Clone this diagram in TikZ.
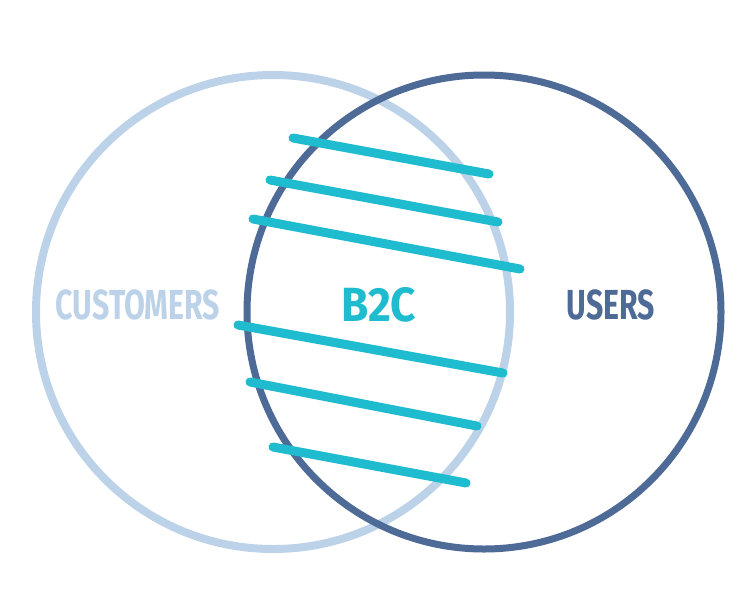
\documentclass[tikz,border=0pt]{standalone}
\usepackage{fontspec}
\newfontfamily\handfont[FakeStretch=0.72]{Fira Sans}
\newfontfamily\btocfont[FakeStretch=0.92]{Fira Sans}
\definecolor{custblue}{HTML}{BCD2E8}
\definecolor{userblue}{HTML}{4E6A96}
\definecolor{btoc}{HTML}{1FBBCF}
\tikzset{
    ring/.style={circle,inner sep=0pt,minimum size=474pt},
    hatch/.style={btoc,line width=9pt,line cap=round},
    label/.style={font=\handfont\bfseries\fontsize{42}{42}\selectfont,inner sep=0pt}
}

\begin{document}
\begin{tikzpicture}[x=1pt,y=-1pt]
    \useasboundingbox (0,0) rectangle (755,600);
    \node[ring,draw=custblue,line width=8pt] (customers) at (273,312) {};
    \node[ring,draw=userblue,line width=7pt] (users) at (484,312) {};
    % overlap
    \draw[hatch] (293,138) -- (489,174);
    \draw[hatch] (270,180) -- (498,222);
    \draw[hatch] (253,219) -- (520,269);
    \draw[hatch] (238,325) -- (503,373);
    \draw[hatch] (250,382) -- (477,426);
    \draw[hatch] (273,447) -- (466,483);
    \node[label,text=custblue] (custlabel) at (138,305) {CUSTOMERS};
    \node[label,text=btoc,font=\btocfont\bfseries\fontsize{48}{48}\selectfont] (btoclabel) at (379,305) {B2C};
    \node[label,text=userblue] (userlabel) at (611,305) {USERS};
\end{tikzpicture}
\end{document}
